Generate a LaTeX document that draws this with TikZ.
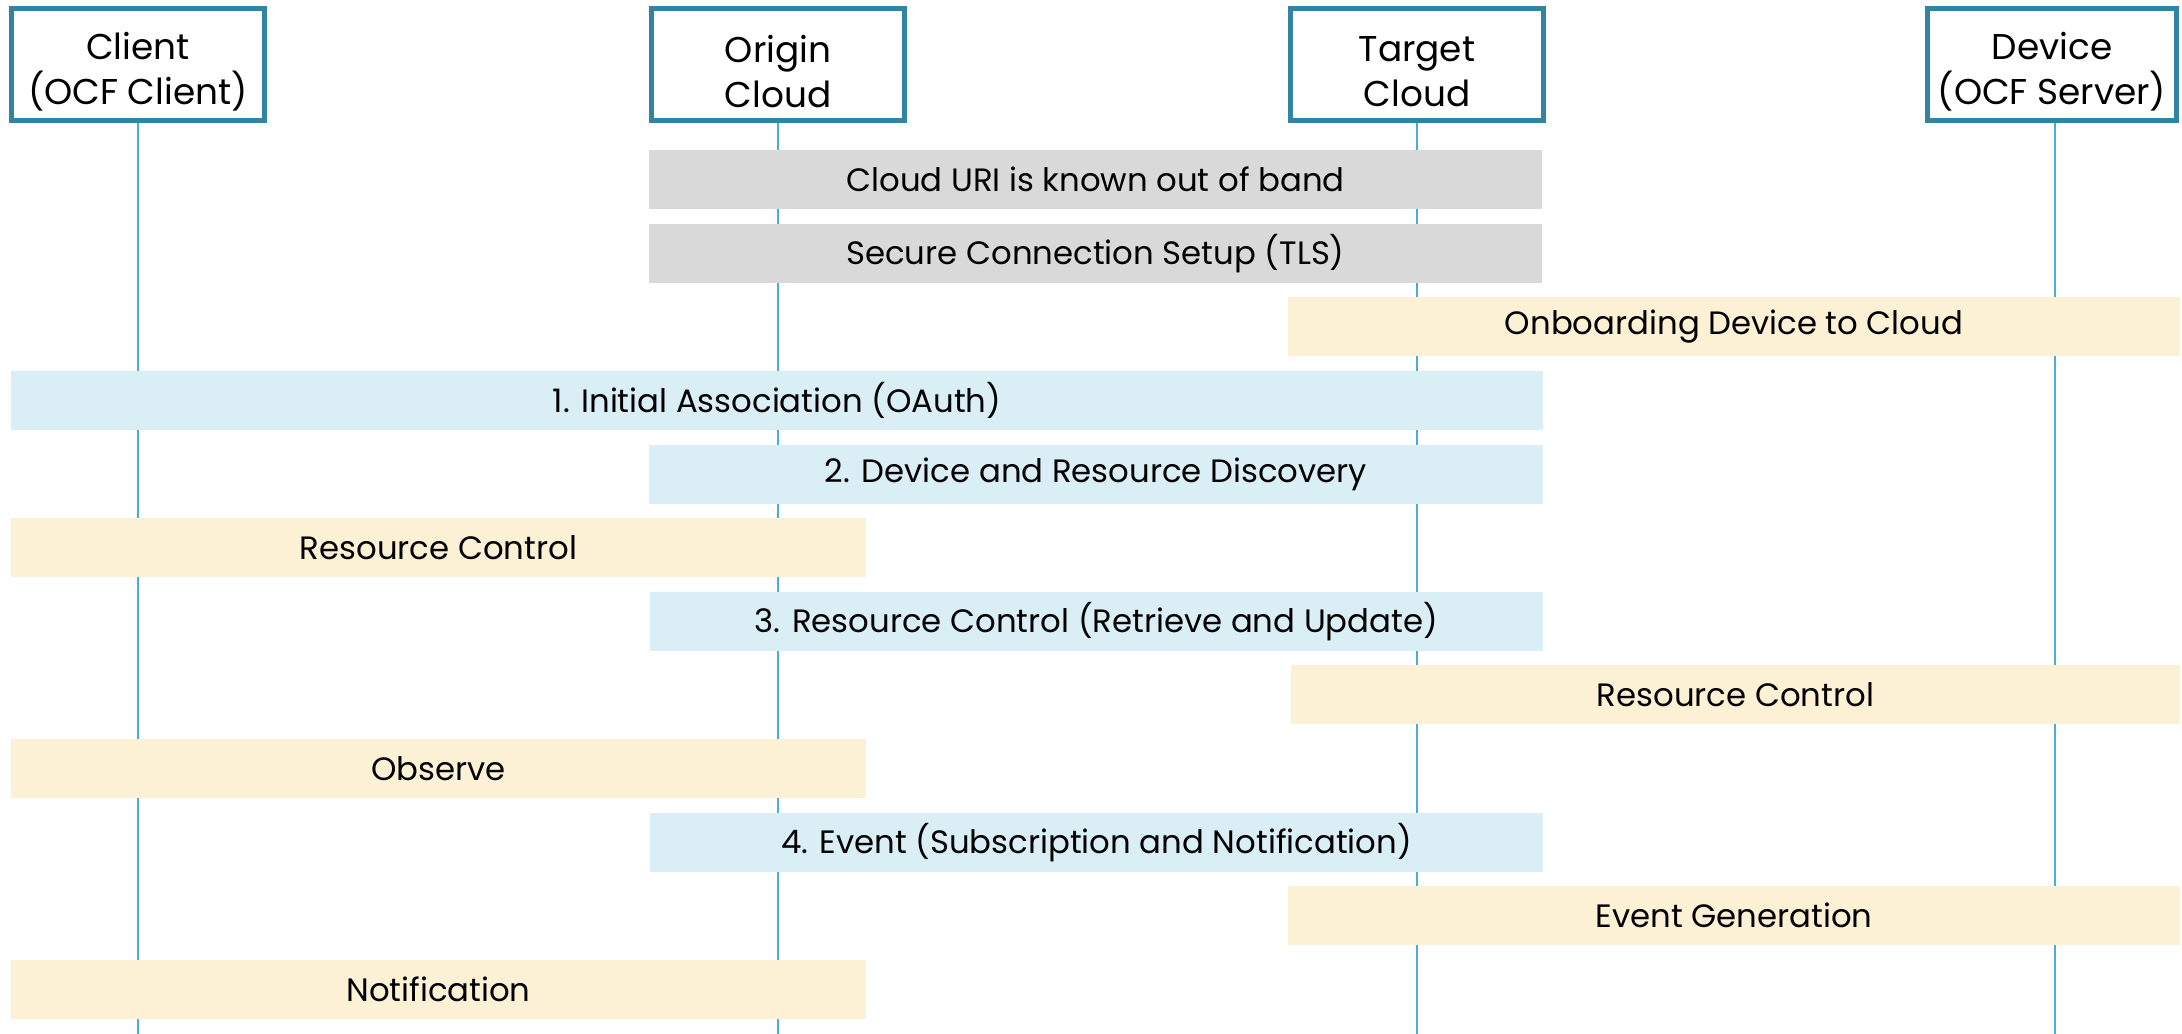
\documentclass[tikz,border=0pt]{standalone}
\usepackage{fontspec}
\setmainfont{Poppins}
\usetikzlibrary{positioning}

\definecolor{headblue}{RGB}{49,132,164}
\definecolor{lifeblue}{RGB}{75,172,220}
\definecolor{barblue}{RGB}{218,238,246}
\definecolor{bargray}{RGB}{217,217,217}
\definecolor{baryellow}{RGB}{252,241,212}

\tikzset{
    header/.style={draw=headblue, line width=1.4pt, fill=white,
        minimum width=2.53cm, minimum height=1.12cm, inner sep=0pt},
    headtext/.style={align=center, inner sep=0pt, yshift=-0.07cm,
        font=\fontsize{10.2pt}{12.8pt}\selectfont},
    lifeline/.style={lifeblue, line width=0.6pt},
    bar/.style={minimum height=0.59cm, inner sep=0pt, font=\fontsize{9.2pt}{11pt}\selectfont},
    graybar/.style={bar, fill=bargray},
    bluebar/.style={bar, fill=barblue},
    yellowbar/.style={bar, fill=baryellow}
}

\begin{document}
\begin{tikzpicture}
    \useasboundingbox (0,0) rectangle (21.82,-10.34);

    % Participants
    \node[header] (client) at (1.38,-0.645) {};
    \node[header] (origin) at (7.78,-0.645) {};
    \node[header] (target) at (14.17,-0.645) {};
    \node[header, minimum width=2.49cm] (device) at (20.52,-0.645) {};
    \node[headtext] (clientname) at (client) {Client\\(OCF Client)};
    \node[headtext] (originname) at (origin) {Origin\\Cloud};
    \node[headtext] (targetname) at (target) {Target\\Cloud};
    \node[headtext] (devicename) at (device) {Device\\(OCF Server)};

    % Lifelines
    \coordinate (bottom) at (0,-10.34);
    \draw[lifeline] (client.south) -- (client.south |- bottom);
    \draw[lifeline] (origin.south) -- (origin.south |- bottom);
    \draw[lifeline] (target.south) -- (target.south |- bottom);
    \draw[lifeline] ([xshift=0.03cm]device.south) -- ([xshift=0.03cm]device.south |- bottom);

    % Setup
    \node[graybar, minimum width=8.93cm] (uri) at (10.955,-1.795) {Cloud URI is known out of band};
    \node[graybar, minimum width=8.93cm] (tls) at (10.955,-2.535) {Secure Connection Setup (TLS)};
    \node[yellowbar, minimum width=8.92cm] (onboard) at (17.34,-3.265) {Onboarding Device to Cloud};

    % Steps
    \node[bluebar, minimum width=15.32cm] (assoc) at (7.77,-4.005) {1. Initial Association (OAuth)};
    \node[bluebar, minimum width=8.94cm] (discovery) at (10.96,-4.745) {2. Device and Resource Discovery};
    \node[yellowbar, minimum width=8.55cm] (ctrlclient) at (4.385,-5.475) {Resource Control};
    \node[bluebar, minimum width=8.93cm] (control) at (10.965,-6.215) {3. Resource Control (Retrieve and Update)};
    \node[yellowbar, minimum width=8.89cm] (ctrldevice) at (17.355,-6.945) {Resource Control};
    \node[yellowbar, minimum width=8.55cm] (observe) at (4.385,-7.685) {Observe};
    \node[bluebar, minimum width=8.93cm] (event) at (10.965,-8.425) {4. Event (Subscription and Notification)};
    \node[yellowbar, minimum width=8.92cm] (evgen) at (17.34,-9.155) {Event Generation};
    \node[yellowbar, minimum width=8.55cm] (notify) at (4.385,-9.895) {Notification};
\end{tikzpicture}
\end{document}
